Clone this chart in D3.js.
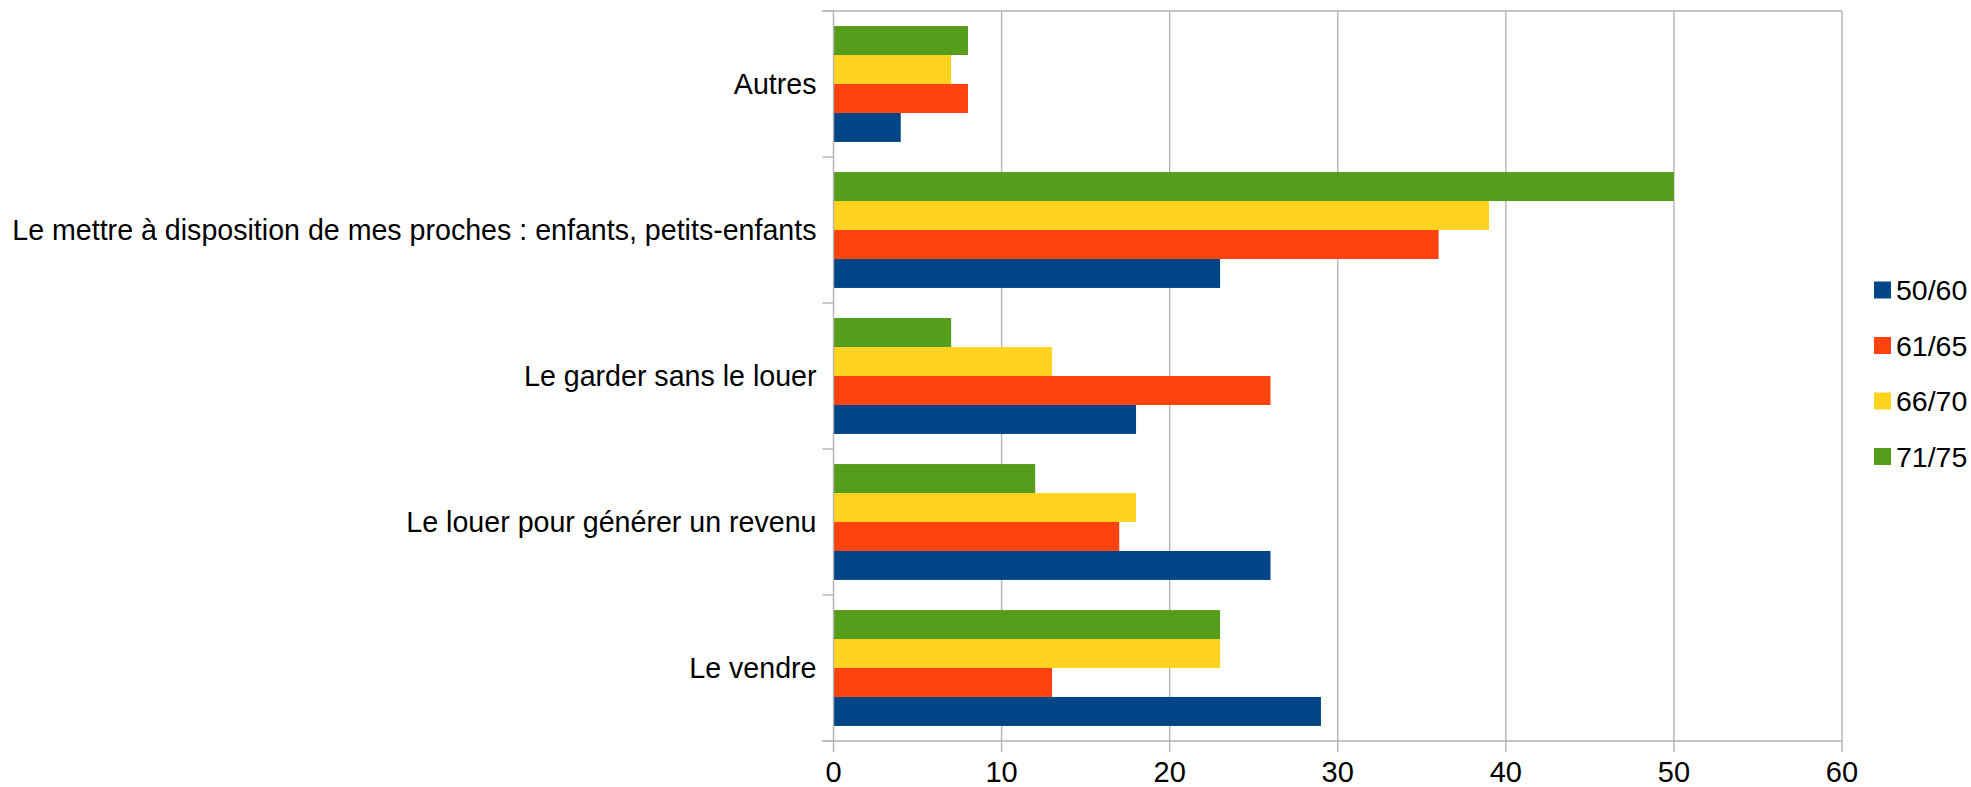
<!DOCTYPE html>
<html lang="fr">
<head>
<meta charset="utf-8">
<script src="https://cdn.jsdelivr.net/npm/d3@7"></script>
<style>
  html, body { margin: 0; padding: 0; background: #ffffff; }
  svg { display: block; }
  text { font-family: "Liberation Sans", Arial, sans-serif; fill: #000000; }
</style>
</head>
<body>
<svg id="chart" width="1971" height="787"></svg>
<script>
// Categories, listed from top to bottom as they appear on the chart
const categories = [
  "Autres",
  "Le mettre à disposition de mes proches : enfants, petits-enfants",
  "Le garder sans le louer",
  "Le louer pour générer un revenu",
  "Le vendre"
];

// Age groups (legend order)
const seriesNames = ["50/60", "61/65", "66/70", "71/75"];
const seriesColors = ["#004586", "#ff420e", "#ffd320", "#579d1c"];

// Values per age group, aligned with `categories`
const values5060 = [4, 23, 18, 26, 29];
const values6165 = [8, 36, 26, 17, 13];
const values6670 = [7, 39, 13, 18, 23];
const values7175 = [8, 50, 7, 12, 23];

// X axis ticks
const xTicks = [0, 10, 20, 30, 40, 50, 60];

const seriesValues = [values5060, values6165, values6670, values7175];

const svg = d3.select("#chart");
const plot = { left: 833.5, right: 1842, top: 11, bottom: 741 };
const gridColor = "#b3b3b3";
const fontSize = 29;
const labelSize = 28.6;

const x = d3.scaleLinear().domain([0, 60]).range([plot.left, plot.right]);
const y = d3.scaleBand().domain(categories).range([plot.top, plot.bottom]).padding(0);
// Within a category, the last series sits on top
const inner = d3.scaleBand()
  .domain(seriesNames.slice().reverse())
  .range([0, y.bandwidth()])
  .paddingInner(0)
  .paddingOuter(0.52);

// Vertical grid lines
svg.append("g")
  .selectAll("line")
  .data(xTicks.filter(t => t > 0))
  .join("line")
  .attr("x1", d => x(d)).attr("x2", d => x(d))
  .attr("y1", plot.top).attr("y2", plot.bottom)
  .attr("stroke", gridColor).attr("stroke-width", 1.4);

// Top border
svg.append("line")
  .attr("x1", plot.left - 11).attr("x2", plot.right)
  .attr("y1", plot.top).attr("y2", plot.top)
  .attr("stroke", gridColor).attr("stroke-width", 1.4);

// Bars
const rows = [];
categories.forEach((c, i) => {
  seriesNames.forEach((s, j) => {
    rows.push({ category: c, series: s, value: seriesValues[j][i], color: seriesColors[j] });
  });
});

svg.append("g")
  .selectAll("rect")
  .data(rows)
  .join("rect")
  .attr("x", x(0))
  .attr("y", d => y(d.category) + inner(d.series))
  .attr("width", d => x(d.value) - x(0))
  .attr("height", inner.bandwidth())
  .attr("fill", d => d.color);

// Bottom axis (line, ticks, labels)
const xAxis = svg.append("g").attr("transform", `translate(0,${plot.bottom})`);
xAxis.append("line")
  .attr("x1", plot.left - 11).attr("x2", plot.right)
  .attr("y1", 0).attr("y2", 0)
  .attr("stroke", gridColor).attr("stroke-width", 1.4);
xAxis.selectAll("line.tick")
  .data(xTicks)
  .join("line")
  .attr("class", "tick")
  .attr("x1", d => x(d)).attr("x2", d => x(d))
  .attr("y1", 0).attr("y2", 11)
  .attr("stroke", gridColor).attr("stroke-width", 1.4);
xAxis.selectAll("text")
  .data(xTicks)
  .join("text")
  .attr("x", d => x(d))
  .attr("y", 41)
  .attr("text-anchor", "middle")
  .attr("font-size", fontSize)
  .text(d => d);

// Left axis (line, category ticks, labels)
const yAxis = svg.append("g");
yAxis.append("line")
  .attr("x1", plot.left).attr("x2", plot.left)
  .attr("y1", plot.top).attr("y2", plot.bottom)
  .attr("stroke", gridColor).attr("stroke-width", 1.4);
const boundaries = categories.map(c => y(c)).concat([plot.bottom]);
yAxis.selectAll("line.tick")
  .data(boundaries)
  .join("line")
  .attr("class", "tick")
  .attr("x1", plot.left - 11).attr("x2", plot.left)
  .attr("y1", d => d).attr("y2", d => d)
  .attr("stroke", gridColor).attr("stroke-width", 1.4);
yAxis.selectAll("text")
  .data(categories)
  .join("text")
  .attr("x", plot.left - 17)
  .attr("y", d => y(d) + y.bandwidth() / 2 + labelSize * 0.36)
  .attr("text-anchor", "end")
  .attr("font-size", labelSize)
  .text(d => d);

// Legend
const legend = svg.append("g");
const legendY = d3.scalePoint().domain(seriesNames).range([290, 456.5]);
legend.selectAll("rect")
  .data(seriesNames)
  .join("rect")
  .attr("x", 1874)
  .attr("y", d => legendY(d) - 8.5)
  .attr("width", 17).attr("height", 17)
  .attr("fill", (d, i) => seriesColors[i]);
legend.selectAll("text")
  .data(seriesNames)
  .join("text")
  .attr("x", 1896)
  .attr("y", d => legendY(d) + fontSize * 0.36)
  .attr("font-size", 28.5)
  .text(d => d);
</script>
</body>
</html>
